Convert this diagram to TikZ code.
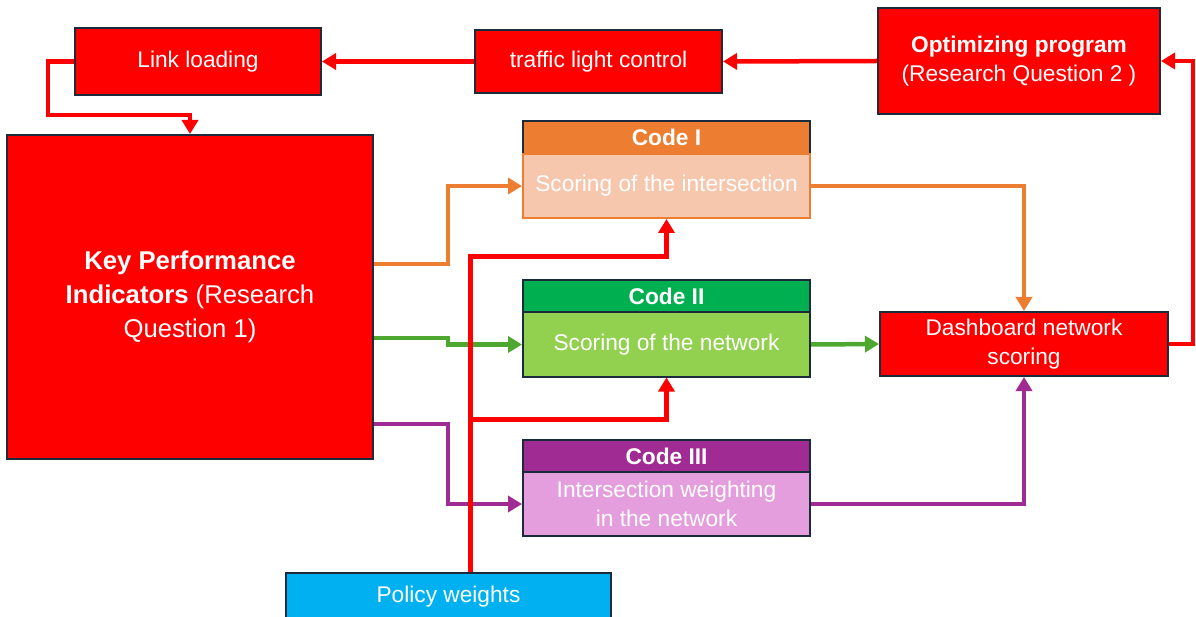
\documentclass[tikz,border=0pt]{standalone}
\usepackage{fontspec}
\setmainfont{Liberation Sans}
\usetikzlibrary{arrows.meta}

\definecolor{kpired}{HTML}{FF0000}
\definecolor{edge}{HTML}{1C2B3C}
\definecolor{orangeA}{HTML}{ED7D31}
\definecolor{orangeB}{HTML}{F6C7AD}
\definecolor{greenA}{HTML}{00B050}
\definecolor{greenB}{HTML}{92D050}
\definecolor{greenL}{HTML}{4EA72E}
\definecolor{purpA}{HTML}{A02B93}
\definecolor{purpB}{HTML}{E49EDD}
\definecolor{cyanA}{HTML}{00B0F0}

\newcommand{\fsnorm}{\fontsize{22.7}{29}\selectfont}
\newcommand{\fsbig}{\fontsize{25.7}{34}\selectfont}

\tikzset{
  box/.style={draw=edge, line width=2pt, text=white, align=center, inner sep=0pt, font=\fsnorm},
  redbox/.style={box, fill=kpired},
  head/.style={box, font=\fsnorm\bfseries, minimum width=287pt, minimum height=33pt},
  body/.style={box, minimum width=287pt, minimum height=64pt},
  conn/.style={line width=4.5pt, -{Triangle[length=14pt,width=16pt]}}
}

\begin{document}
\begin{tikzpicture}[x=1pt,y=-1pt]
  \useasboundingbox (0,0) rectangle (1196,617);
  % top row
  \node[redbox, minimum width=246pt, minimum height=67pt] (link) at (198,61.5) {Link loading};
  \node[redbox, minimum width=247pt, minimum height=63pt] (traffic) at (598.5,61.5) {traffic light control};
  \node[redbox, minimum width=282pt, minimum height=106pt] (optim) at (1019,61) {\textbf{Optimizing program}\\(Research Question 2 )};
  % kpi
  \node[redbox, font=\fsbig, minimum width=366pt, minimum height=324pt] (kpi) at (190,297)
    {\textbf{Key Performance}\\\textbf{Indicators} (Research\\Question 1)};
  % codes
  \node[head, fill=orangeA] (c1h) at (666.5,137.5) {Code I};
  \node[body, fill=orangeB, draw=orangeA] (c1b) at (666.5,186) {Scoring of the intersection};
  \node[head, fill=greenA] (c2h) at (666.5,296.5) {Code II};
  \node[body, fill=greenB] (c2b) at (666.5,344.5) {Scoring of the network};
  \node[head, fill=purpA] (c3h) at (666.5,456) {Code III};
  \node[body, fill=purpB] (c3b) at (666.5,504) {Intersection weighting\\in the network};
  % dashboard and weights
  \node[redbox, minimum width=288pt, minimum height=64pt] (dash) at (1024,344) {Dashboard network\\scoring};
  \node[box, fill=cyanA, minimum width=325pt, minimum height=48pt] (policy) at (448.5,597) {Policy weights};
  \coordinate (br) at (470,419);

  % loop
  \draw[conn, kpired] (traffic.west) -- (link.east);
  \draw[conn, kpired] (optim.west) -- (traffic.east);
  \draw[conn, kpired] (link.west) -| (48,115) -| (kpi.north);
  \draw[conn, kpired] (dash.east) -| (1193,61) -- (optim.east);
  % kpi to codes
  \draw[conn, orangeA] (kpi.east |- 0,264) -| (448,186) -- (c1b.west);
  \draw[conn, greenL] (kpi.east |- 0,338) -| (448,344.5) -- (c2b.west);
  \draw[conn, purpA] (kpi.east |- 0,424) -| (448,504) -- (c3b.west);
  % codes to dashboard
  \draw[conn, orangeA] (c1b.east) -| (dash.north);
  \draw[conn, greenL] (c2b.east) -- (dash.west);
  \draw[conn, purpA] (c3b.east) -| (dash.south);
  % weights
  \draw[conn, kpired, line width=5pt] (policy.north -| 470,0) |- (c1b.south |- 0,257) -- (c1b.south);
  \draw[conn, kpired, line width=5pt] (br) -| (c2b.south);
\end{tikzpicture}
\end{document}
